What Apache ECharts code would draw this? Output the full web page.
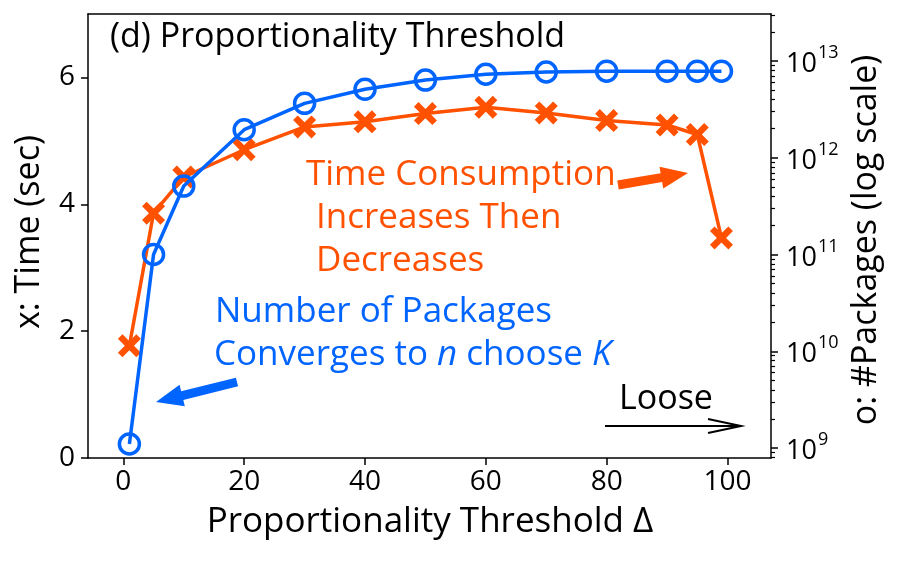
<!DOCTYPE html>
<html>
<head>
<meta charset="utf-8">
<script src="https://cdn.jsdelivr.net/npm/echarts@6/dist/echarts.min.js"></script>
<style>
html,body{margin:0;padding:0;background:#fff;}
#c{width:899px;height:562px;}
</style>
</head>
<body>
<div id="c"></div>
<script>
// ---- data ----
const thresholds = [1, 5, 10, 20, 30, 40, 50, 60, 70, 80, 90, 95, 99];
const timeSec = [1.77, 3.86, 4.43, 4.86, 5.22, 5.30, 5.43, 5.53, 5.44, 5.32, 5.25, 5.10, 3.47];
const numPackages = [1.1e9, 1.0e11, 5.1e11, 1.95e12, 3.65e12, 5.1e12, 6.35e12, 7.3e12, 7.7e12, 7.85e12, 7.85e12, 7.85e12, 7.85e12];
const xTicks = [0, 20, 40, 60, 80, 100];
const yTicks = [0, 2, 4, 6];
const logTicks = [9, 10, 11, 12, 13];

const FONT = 'Open Sans';
const ORANGE = '#FF5100';
const BLUE = '#0064FF';

const minorLog = [];
for (let e = 8; e <= 13; e++) {
  for (let k = 2; k <= 9; k++) {
    const v = e + Math.log10(k);
    if (v > 8.897 && v < 13.486) minorLog.push(v);
  }
}

const xMark = 'path://M2,0 L5,3 L8,0 L10,2 L7,5 L10,8 L8,10 L5,7 L2,10 L0,8 L3,5 L0,2 Z';

function arrowPts(tx, ty, hx, hy, shaftHW, headHW, headLen) {
  const dx = hx - tx, dy = hy - ty, L = Math.hypot(dx, dy);
  const ux = dx / L, uy = dy / L, nx = -uy, ny = ux;
  const bx = hx - ux * headLen, by = hy - uy * headLen;
  return [
    [tx + nx * shaftHW, ty + ny * shaftHW],
    [bx + nx * shaftHW, by + ny * shaftHW],
    [bx + nx * headHW, by + ny * headHW],
    [hx, hy],
    [bx - nx * headHW, by - ny * headHW],
    [bx - nx * shaftHW, by - ny * shaftHW],
    [tx - nx * shaftHW, ty - ny * shaftHW]
  ];
}

function txt(text, x, y, size, color, align, rotation) {
  return {
    type: 'text', x: x, y: y, z: 100, rotation: rotation || 0,
    style: { text: text, font: size + 'px "' + FONT + '"', fill: color, align: align || 'left', verticalAlign: 'middle' }
  };
}

const chart = echarts.init(document.getElementById('c'), null, { renderer: 'canvas' });

const axisLineStyle = { color: '#000', width: 1.5 };

const option = {
  backgroundColor: '#fff',
  animation: false,
  textStyle: { fontFamily: FONT },
  grid: { left: 88, right: 128, top: 14, bottom: 104, containLabel: false },
  xAxis: [
    {
      type: 'value', min: -5.85, max: 107.2, position: 'bottom',
      axisLine: { show: true, onZero: false, lineStyle: axisLineStyle },
      axisTick: { show: true, inside: false, length: 7, lineStyle: { color: '#000', width: 1.5 }, customValues: xTicks },
      axisLabel: { show: true, customValues: xTicks, fontSize: 28, color: '#000', fontFamily: FONT, margin: 10 },
      splitLine: { show: false }
    },
    {
      type: 'value', min: -5.85, max: 107.2, position: 'top',
      axisLine: { show: true, onZero: false, lineStyle: axisLineStyle },
      axisTick: { show: false }, axisLabel: { show: false }, splitLine: { show: false }
    }
  ],
  yAxis: [
    {
      type: 'value', min: 0, max: 7, position: 'left',
      axisLine: { show: true, onZero: false, lineStyle: axisLineStyle },
      axisTick: { show: true, length: 7, lineStyle: { color: '#000', width: 1.5 }, customValues: yTicks },
      axisLabel: { show: true, customValues: yTicks, fontSize: 28, color: '#000', fontFamily: FONT, margin: 13 },
      splitLine: { show: false }
    },
    {
      type: 'value', min: 8.897, max: 13.486, position: 'right',
      axisLine: { show: true, onZero: false, lineStyle: axisLineStyle },
      axisTick: { show: true, length: 7, lineStyle: { color: '#000', width: 1.5 }, customValues: logTicks },
      axisLabel: {
        show: true, customValues: logTicks, margin: 15, align: 'left',
        formatter: function (v) { return '{b|10}{e|' + Math.round(v) + '}'; },
        rich: {
          b: { fontSize: 27, fontFamily: FONT, color: '#000', lineHeight: 34, verticalAlign: 'bottom' },
          e: { fontSize: 18, fontFamily: FONT, color: '#000', lineHeight: 34, verticalAlign: 'top', padding: [0, 0, 0, 1] }
        }
      },
      splitLine: { show: false }
    },
    {
      type: 'value', min: 8.897, max: 13.486, position: 'right',
      axisLine: { show: false, onZero: false },
      axisTick: { show: true, length: 4, lineStyle: { color: '#000', width: 1.2 }, customValues: minorLog },
      axisLabel: { show: false },
      splitLine: { show: false }
    }
  ],
  series: [
    {
      type: 'line', name: 'time', xAxisIndex: 0, yAxisIndex: 0, z: 3,
      data: thresholds.map((x, i) => [x, timeSec[i]]),
      symbol: xMark, symbolSize: 23,
      itemStyle: { color: ORANGE },
      lineStyle: { color: ORANGE, width: 3.5 }
    },
    {
      type: 'line', name: 'packages', xAxisIndex: 0, yAxisIndex: 1, z: 5,
      data: thresholds.map((x, i) => [x, Math.log10(numPackages[i])]),
      symbol: 'circle', symbolSize: 20,
      itemStyle: { color: 'rgba(0,0,0,0)', borderColor: BLUE, borderWidth: 3.5 },
      lineStyle: { color: BLUE, width: 3.5 }
    }
  ],
  graphic: [
    txt('(d) Proportionality Threshold', 110, 37, 34, '#000'),
    txt('Proportionality Threshold Δ', 430, 522, 35, '#000', 'center'),
    txt('x: Time (sec)', 29, 232, 34, '#000', 'center', Math.PI / 2),
    txt('o: #Packages (log scale)', 866, 240, 34, '#000', 'center', Math.PI / 2),
    txt('Time Consumption', 306, 175, 35, ORANGE),
    txt('Increases Then', 316, 218, 35, ORANGE),
    txt('Decreases', 316, 261, 35, ORANGE),
    txt('Number of Packages', 215, 312, 35, BLUE),
    {
      type: 'text', x: 214, y: 355, z: 100,
      style: {
        text: '{r|Converges to }{i|n}{r| choose }{i|K}',
        verticalAlign: 'middle', align: 'left', fill: BLUE,
        rich: {
          r: { fontSize: 35, fontFamily: FONT, fill: BLUE, color: BLUE },
          i: { fontSize: 35, fontFamily: FONT, fontStyle: 'italic', fill: BLUE, color: BLUE }
        }
      }
    },
    txt('Loose', 619, 399, 34, '#000'),
    {
      type: 'polygon', z: 90,
      shape: { points: arrowPts(618, 185, 688, 173, 4.5, 11, 27) },
      style: { fill: ORANGE }
    },
    {
      type: 'polygon', z: 90,
      shape: { points: arrowPts(237, 382, 156, 402, 4.5, 11, 27) },
      style: { fill: BLUE }
    },
    {
      type: 'polyline', z: 90,
      shape: { points: [[605, 426], [741, 426]] },
      style: { stroke: '#000', lineWidth: 2, fill: null }
    },
    {
      type: 'polyline', z: 90,
      shape: { points: [[708, 419], [741, 426], [708, 433]] },
      style: { stroke: '#000', lineWidth: 2, fill: null }
    }
  ]
};

chart.setOption(option);
</script>
</body>
</html>
